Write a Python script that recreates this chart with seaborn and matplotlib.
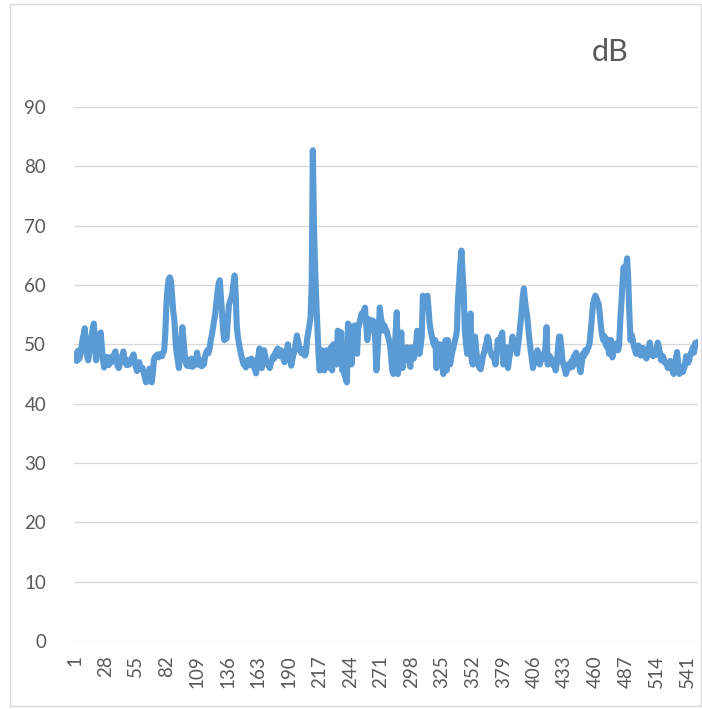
import matplotlib
matplotlib.use("Agg")
import matplotlib.pyplot as plt
from matplotlib.patches import Rectangle
import numpy as np
import pandas as pd
import seaborn as sns

# Sound level readings (dB), one per sample
levels = [
    47.6, 48.4, 47.2, 48.9, 47.5, 48.1, 49.3, 50.8, 51.6, 52.7,
    50.2, 48.1, 47.3, 48.6, 50.1, 51.4, 52.6, 53.5, 49.8, 47.3,
    48.9, 50.7, 51.5, 52.0, 49.6, 47.4, 46.1, 46.8, 47.9, 47.2,
    46.5, 47.8, 46.9, 47.1, 47.9, 48.4, 48.8, 47.2, 46.3, 46.0,
    46.8, 47.5, 48.1, 48.8, 47.6, 46.9, 46.5, 47.3, 46.6, 47.0,
    47.4, 47.9, 48.3, 47.0, 46.2, 45.5, 46.4, 47.0, 46.1, 45.8,
    46.0, 45.2, 44.4, 43.6, 44.8, 44.5, 45.9, 44.1, 43.6, 45.2,
    47.5, 47.9, 48.1, 48.3, 47.8, 48.2, 48.4, 48.0, 48.5, 49.0,
    52.0, 57.0, 59.5, 61.0, 61.3, 60.6, 58.0, 55.5, 54.0, 50.5,
    48.5, 47.2, 46.0, 48.1, 50.7, 52.9, 50.8, 48.4, 47.0, 46.4,
    47.4, 46.3, 46.8, 47.6, 46.2, 47.1, 46.5, 47.4, 48.6, 47.2,
    46.5, 47.3, 46.3, 47.0, 46.6, 47.9, 48.6, 49.0, 48.5, 49.2,
    50.7, 51.5, 52.8, 54.0, 55.2, 57.0, 58.8, 60.2, 60.8, 58.0,
    55.0, 52.3, 50.7, 51.2, 51.0, 53.8, 56.6, 57.2, 57.8, 58.5,
    60.2, 61.6, 58.5, 53.0, 51.2, 50.0, 49.0, 48.1, 47.3, 46.6,
    46.9, 46.1, 46.8, 47.4, 47.0, 46.5, 47.6, 47.3, 46.2, 45.8,
    45.1, 46.6, 48.0, 49.3, 47.8, 46.0, 47.2, 49.0, 48.1, 47.0,
    46.6, 46.8, 46.0, 46.9, 47.3, 48.0, 47.6, 48.6, 48.9, 49.3,
    48.4, 48.0, 49.0, 48.2, 47.6, 47.0, 48.1, 48.9, 50.0, 48.7,
    47.3, 46.4, 47.5, 48.3, 49.0, 50.2, 51.5, 50.6, 49.4, 48.9,
    48.5, 49.2, 48.8, 48.1, 48.5, 51.0, 52.0, 53.2, 54.5, 60.0,
    82.7, 70.0, 63.0, 57.5, 53.0, 48.5, 45.6, 47.0, 49.0, 47.8,
    45.6, 47.2, 49.0, 48.0, 47.3, 46.0, 49.5, 45.6, 50.0, 48.2,
    47.5, 46.6, 52.3, 51.0, 49.2, 52.0, 45.6, 46.0, 44.8, 44.2,
    43.6, 53.5, 53.2, 50.5, 46.6, 49.8, 52.0, 53.2, 51.0, 48.4,
    52.7, 53.5, 54.4, 55.2, 54.6, 55.6, 56.2, 53.5, 50.7, 52.5,
    54.2, 53.0, 52.4, 54.0, 53.1, 50.7, 45.6, 48.5, 52.0, 56.2,
    54.5, 53.6, 52.3, 53.2, 52.6, 52.3, 51.5, 50.8, 50.0, 48.0,
    45.6, 45.0, 48.5, 52.0, 55.4, 45.0, 47.5, 49.6, 52.0, 46.0,
    47.5, 48.6, 47.8, 49.5, 48.3, 47.0, 46.2, 49.5, 48.2, 47.6,
    48.4, 50.0, 52.3, 50.2, 48.4, 49.6, 51.3, 58.2, 57.4, 56.5,
    57.6, 58.2, 56.0, 53.5, 52.2, 51.3, 50.4, 49.8, 50.7, 46.0,
    47.6, 49.2, 50.0, 48.5, 46.8, 45.0, 47.4, 50.7, 45.6, 50.7,
    48.6, 46.6, 47.8, 48.8, 49.5, 50.4, 51.2, 52.3, 57.9, 60.5,
    63.5, 65.8, 62.0, 59.0, 52.3, 50.2, 48.4, 49.6, 52.4, 55.2,
    47.3, 46.6, 48.9, 51.3, 49.0, 47.3, 46.5, 46.0, 45.8, 46.9,
    48.0, 48.6, 49.4, 50.2, 51.3, 50.7, 49.0, 48.6, 48.0, 48.4,
    47.5, 46.6, 48.2, 50.7, 49.8, 50.5, 51.4, 52.0, 46.6, 47.8,
    48.8, 49.5, 46.0, 47.5, 48.6, 49.6, 51.3, 50.5, 49.8, 50.7,
    48.4, 50.0, 51.6, 53.5, 55.5, 58.0, 59.4, 57.4, 55.8, 54.6,
    52.5, 50.6, 49.0, 47.6, 46.0, 46.8, 48.0, 47.5, 49.0, 48.2,
    46.6, 47.3, 47.8, 48.4, 47.6, 49.5, 52.9, 46.6, 47.5, 48.0,
    47.6, 47.3, 46.4, 47.1, 45.6, 46.8, 49.0, 51.3, 51.3, 49.5,
    47.3, 46.5, 45.8, 45.0, 45.6, 46.6, 46.0, 46.8, 47.2, 46.2,
    48.0, 47.4, 48.6, 48.1, 47.0, 46.2, 45.3, 46.8, 48.4, 48.0,
    49.0, 48.6, 49.2, 49.5, 50.3, 52.3, 54.5, 56.8, 57.6, 58.2,
    57.8, 57.2, 56.8, 55.0, 52.9, 51.6, 50.7, 51.4, 50.2, 49.6,
    50.8, 48.4, 49.4, 50.7, 47.8, 48.6, 49.0, 49.5, 50.2, 49.0,
    49.8, 54.1, 57.0, 60.5, 63.0, 60.8, 62.6, 64.5, 61.0, 55.2,
    50.7, 51.6, 50.8, 49.6, 49.0, 48.4, 49.2, 49.8, 48.9, 48.1,
    48.8, 49.4, 48.3, 48.0, 47.6, 48.0, 49.1, 50.3, 49.2, 48.6,
    48.0, 48.5, 48.2, 49.0, 50.3, 49.5, 48.4, 47.3, 48.1, 47.8,
    47.0, 46.8, 46.5, 46.0, 46.8, 47.2, 46.4, 45.6, 45.0, 46.2,
    47.5, 48.7, 47.0, 45.0, 45.6, 46.2, 45.3, 45.8, 46.5, 48.0,
    47.2, 46.9, 47.6, 48.4, 48.8, 49.5, 48.6, 50.2, 49.8, 50.4,
]
samples = list(range(1, len(levels) + 1))

# Category labels shown on the x axis
x_ticks = [1, 28, 55, 82, 109, 136, 163, 190, 217, 244, 271, 298,
           325, 352, 379, 406, 433, 460, 487, 514, 541]
y_ticks = [0, 10, 20, 30, 40, 50, 60, 70, 80, 90]
title = "dB"

df = pd.DataFrame({"sample": samples, "dB": levels})

sns.set_theme(style="white")
plt.rcParams["font.family"] = ["Lato", "DejaVu Sans"]

W, H = 702, 709
fig = plt.figure(figsize=(W / 100, H / 100), dpi=100)
fig.patch.set_facecolor("white")

# Chart-area frame
fig.add_artist(Rectangle((10 / W, 3 / H), 691 / W, 702 / H,
                         transform=fig.transFigure, fill=False,
                         edgecolor="#D9D9D9", linewidth=1.0))

ax = fig.add_axes([74 / W, (H - 641) / H, 624 / W, (641 - 107) / H])
ax.set_facecolor("white")

sns.lineplot(data=df, x="sample", y="dB", ax=ax, color="#5B9BD5",
             linewidth=4.4, solid_joinstyle="round", solid_capstyle="round")

ax.set_xlim(0.5, len(levels) + 0.5)
ax.set_ylim(0, 90)
ax.set_yticks(y_ticks)
ax.set_yticklabels([str(v) for v in y_ticks])
ax.set_xticks(x_ticks)
ax.set_xticklabels([str(v) for v in x_ticks], rotation=90)
ax.grid(axis="y", color="#D9D9D9", linewidth=1.0)
ax.grid(axis="x", visible=False)
ax.set_axisbelow(True)
for s in ax.spines.values():
    s.set_visible(False)
ax.tick_params(axis="y", length=0, pad=20, labelsize=13.5, labelcolor="#595959")
ax.tick_params(axis="x", length=0, pad=10, labelsize=13.5, labelcolor="#595959")
ax.set_xlabel("")
ax.set_ylabel("")

fig.text(610 / W, 1 - 52 / H, title, ha="center", va="center",
         fontsize=22, color="#595959")

fig.savefig("out.png", dpi=100, facecolor="white")
